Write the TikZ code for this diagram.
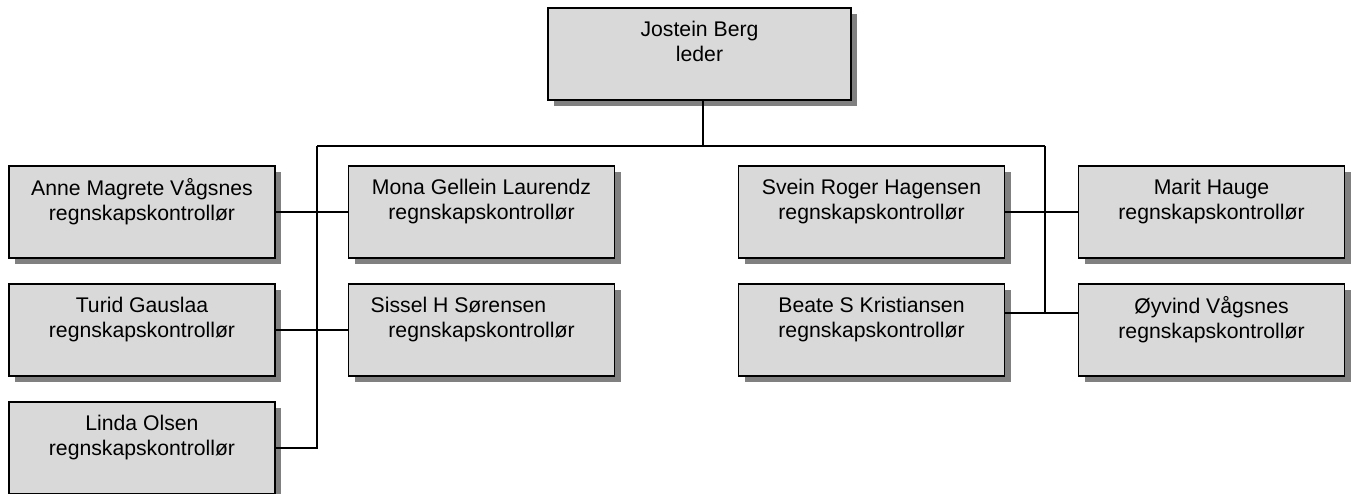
\documentclass[tikz,border=0pt]{standalone}
\usepackage{fontspec}
\setmainfont{Liberation Sans}
\usetikzlibrary{shadows}

\tikzset{
  person/.style={draw=black, line width=1.5pt, fill=black!15, minimum width=266pt, minimum height=92pt, inner sep=0pt, align=center, font=\fontsize{21.2}{25}\selectfont, drop shadow={shadow xshift=6pt, shadow yshift=-6pt, fill=black!50, opacity=1}},
  link/.style={line width=1.5pt}
}

\begin{document}
\begin{tikzpicture}[x=1pt, y=-1pt]
    \useasboundingbox (0,0) rectangle (1354,494); % page size of the chart
    \node [person, minimum width=303pt] (boss) at (699.5,54) {Jostein Berg\\leder\\\mbox{}}; % the leader on top
    \node [person] (anne) at (142,212) {Anne Magrete Vågsnes\\regnskapskontrollør\\\mbox{}};
    \node [person] (turid) at (142,330) {Turid Gauslaa\\regnskapskontrollør\\\mbox{}};
    \node [person] (linda) at (142,448) {Linda Olsen\\regnskapskontrollør\\\mbox{}};
    \node [person] (mona) at (481.5,212) {Mona Gellein Laurendz\\regnskapskontrollør\\\mbox{}};
    \node [person] (sissel) at (481.5,330) {Sissel H Sørensen\hspace*{46pt}\\regnskapskontrollør\\\mbox{}};
    \node [person] (svein) at (871.5,212) {Svein Roger Hagensen\\regnskapskontrollør\\\mbox{}};
    \node [person] (beate) at (871.5,330) {Beate S Kristiansen\\regnskapskontrollør\\\mbox{}};
    \node [person] (marit) at (1211.5,212) {Marit Hauge\\regnskapskontrollør\\\mbox{}};
    \node [person] (oyvind) at (1211.5,330) {Øyvind Vågsnes\\regnskapskontrollør\\\mbox{}};
    \coordinate (lbus) at (317,146); % left end of the bus
    \coordinate (rbus) at (1045,146); % right end of the bus
    \coordinate (rjoin) at ([yshift=17pt]beate.east); % lower right link height
    \draw [link] ([xshift=3.5pt]boss.south) -- ([xshift=3.5pt]boss.south |- lbus); % leader down to the bus
    \draw [link] (lbus) -- (rbus); % the bus
    \draw [link] (lbus) |- (linda.east); % left branch
    \draw [link] (anne.east) -- (mona.west);
    \draw [link] (turid.east) -- (sissel.west);
    \draw [link] (rbus) -- (rbus |- rjoin); % right branch
    \draw [link] (svein.east) -- (marit.west);
    \draw [link] (rjoin) -- (rjoin -| oyvind.west);
\end{tikzpicture}
\end{document}
